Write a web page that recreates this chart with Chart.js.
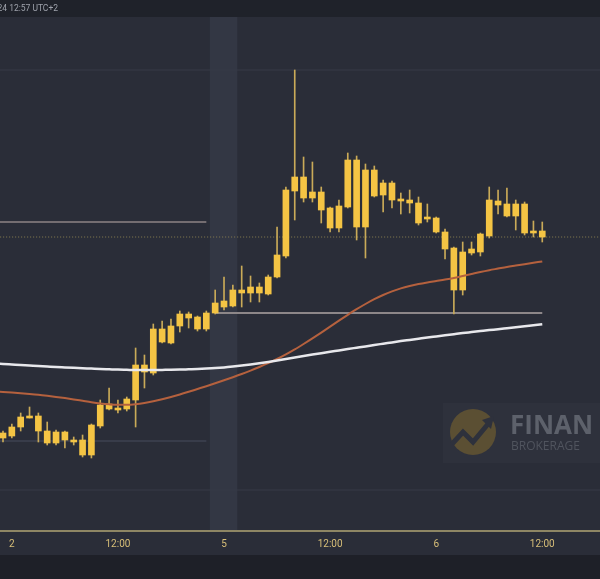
<!DOCTYPE html>
<html>
<head>
<meta charset="utf-8">
<script src="https://cdn.jsdelivr.net/npm/chart.js@4.4.1/dist/chart.umd.min.js"></script>
<style>
  html, body { margin: 0; padding: 0; background: #1e2028; }
  canvas { display: block; }
</style>
</head>
<body>
<canvas id="chart" width="600" height="579"></canvas>
<script>
// EUR/USD, 1-hour candles, 2 Aug 23:00 to 6 Aug 12:00 (UTC+2)
const openP = [
  1.07872, 1.07884, 1.07938, 1.07992, 1.08004, 1.07914, 1.07842, 1.07908, 1.07860, 1.07860,
  1.07770, 1.07944, 1.08076, 1.08040, 1.08046, 1.08100, 1.08310, 1.08262, 1.08526, 1.08442,
  1.08544, 1.08616, 1.08598, 1.08526, 1.08622, 1.08694, 1.08664, 1.08760, 1.08742, 1.08778,
  1.08736, 1.08838, 1.08964, 1.09354, 1.09438, 1.09312, 1.09348, 1.09252, 1.09132, 1.09258,
  1.09540, 1.09138, 1.09480, 1.09330, 1.09402, 1.09306, 1.09300, 1.09282, 1.09186, 1.09192,
  1.09108, 1.09012, 1.08760, 1.08982, 1.08988, 1.09084, 1.09294, 1.09276, 1.09204, 1.09276,
  1.09102, 1.09114
];
const highP = [
  1.07914, 1.07956, 1.08022, 1.08058, 1.08022, 1.07968, 1.07920, 1.07914, 1.07878, 1.07890,
  1.07956, 1.08100, 1.08172, 1.08100, 1.08118, 1.08412, 1.08370, 1.08556, 1.08574, 1.08586,
  1.08634, 1.08628, 1.08604, 1.08634, 1.08760, 1.08838, 1.08790, 1.08904, 1.08844, 1.08802,
  1.08850, 1.09138, 1.09378, 1.10080, 1.09558, 1.09528, 1.09378, 1.09258, 1.09300, 1.09582,
  1.09564, 1.09516, 1.09504, 1.09420, 1.09414, 1.09342, 1.09360, 1.09318, 1.09276, 1.09198,
  1.09126, 1.09018, 1.09048, 1.09048, 1.09102, 1.09378, 1.09360, 1.09372, 1.09300, 1.09288,
  1.09174, 1.09168
];
const lowP = [
  1.07848, 1.07872, 1.07914, 1.07992, 1.07848, 1.07830, 1.07830, 1.07812, 1.07830, 1.07758,
  1.07752, 1.07932, 1.08040, 1.08022, 1.08034, 1.07938, 1.08172, 1.08250, 1.08442, 1.08436,
  1.08508, 1.08532, 1.08514, 1.08514, 1.08616, 1.08640, 1.08658, 1.08658, 1.08688, 1.08688,
  1.08730, 1.08832, 1.08952, 1.09180, 1.09288, 1.09288, 1.09162, 1.09108, 1.09108, 1.09252,
  1.09060, 1.08952, 1.09318, 1.09228, 1.09252, 1.09216, 1.09222, 1.09150, 1.09168, 1.09102,
  1.08946, 1.08616, 1.08730, 1.08970, 1.08964, 1.09072, 1.09216, 1.09198, 1.09120, 1.09090,
  1.09078, 1.09048
];
const closeP = [
  1.07902, 1.07938, 1.07998, 1.08004, 1.07914, 1.07842, 1.07908, 1.07860, 1.07848, 1.07770,
  1.07950, 1.08070, 1.08046, 1.08052, 1.08106, 1.08310, 1.08268, 1.08526, 1.08448, 1.08544,
  1.08616, 1.08592, 1.08526, 1.08622, 1.08682, 1.08658, 1.08760, 1.08742, 1.08778, 1.08742,
  1.08838, 1.08970, 1.09360, 1.09438, 1.09312, 1.09348, 1.09240, 1.09132, 1.09264, 1.09540,
  1.09138, 1.09480, 1.09324, 1.09402, 1.09300, 1.09294, 1.09282, 1.09162, 1.09198, 1.09108,
  1.09006, 1.08760, 1.08988, 1.09006, 1.09096, 1.09300, 1.09270, 1.09204, 1.09276, 1.09102,
  1.09114, 1.09078
];

// Moving averages, starting one candle before the first visible one
const maStart = -1;
const maFast = [
  1.081510,
  1.081480, 1.081444, 1.081402, 1.081360, 1.081312, 1.081252, 1.081186, 1.081114, 1.081036, 1.080952,
  1.080868, 1.080796, 1.080742, 1.080712, 1.080712, 1.080748, 1.080820, 1.080922, 1.081042, 1.081180,
  1.081330, 1.081492, 1.081660, 1.081828, 1.082002, 1.082182, 1.082368, 1.082560, 1.082764, 1.082980,
  1.083208, 1.083460, 1.083736, 1.084036, 1.084360, 1.084696, 1.085044, 1.085404, 1.085764, 1.086112,
  1.086448, 1.086760, 1.087048, 1.087300, 1.087516, 1.087696, 1.087840, 1.087960, 1.088056, 1.088140,
  1.088224, 1.088320, 1.088440, 1.088560, 1.088680, 1.088788, 1.088884, 1.088980, 1.089064, 1.089148,
  1.089232, 1.089316
];
const maSlow = [
  1.083184,
  1.083160, 1.083130, 1.083100, 1.083070, 1.083040, 1.083010, 1.082980, 1.082956, 1.082932, 1.082908,
  1.082884, 1.082860, 1.082842, 1.082824, 1.082812, 1.082800, 1.082800, 1.082800, 1.082806, 1.082812,
  1.082824, 1.082842, 1.082860, 1.082884, 1.082914, 1.082956, 1.083010, 1.083070, 1.083136, 1.083208,
  1.083286, 1.083370, 1.083460, 1.083550, 1.083640, 1.083724, 1.083808, 1.083892, 1.083976, 1.084060,
  1.084138, 1.084216, 1.084300, 1.084378, 1.084456, 1.084534, 1.084606, 1.084678, 1.084750, 1.084816,
  1.084882, 1.084948, 1.085014, 1.085074, 1.085134, 1.085194, 1.085248, 1.085308, 1.085368, 1.085428,
  1.085488, 1.085548
];

// Time axis
const tickPos  = [1, 13, 25, 37, 49, 61];
const tickText = ['2', '12:00', '5', '12:00', '6', '12:00'];

// Horizontal levels
const resistanceLevel = 1.09168;
const supportLevel    = 1.08622;
const lowerLevel      = 1.07854;
const lastPrice       = 1.09078;
const gridLevels      = [1.10080, 1.07560];

// Weekend gap marker (candle index span)
const sessionGap = [23.4, 26.5];

const idx = openP.map((_, i) => i);

const COLORS = {
  page: '#1e2028',
  plot: '#2a2d38',
  topBar: '#1f222a',
  gap: '#333744',
  body: '#f4c444',
  wick: '#c9aa58',
  fast: '#b5613e',
  slow: '#e8e8ec',
  axis: '#8e8664',
  tick: '#d8bf78'
};

const background = {
  id: 'background',
  beforeDraw(chart) {
    const { ctx, chartArea, scales } = chart;
    ctx.save();
    ctx.fillStyle = COLORS.page;
    ctx.fillRect(0, 0, chart.width, chart.height);
    ctx.fillStyle = COLORS.plot;
    ctx.fillRect(0, 17, chart.width, 538);
    ctx.fillStyle = COLORS.topBar;
    ctx.fillRect(0, 0, chart.width, 17);
    // weekend gap column
    const x0 = scales.x.getPixelForValue(sessionGap[0]);
    const x1 = scales.x.getPixelForValue(sessionGap[1]);
    ctx.fillStyle = COLORS.gap;
    ctx.fillRect(x0, 17, x1 - x0, chartArea.bottom - 17);
    ctx.restore();
  },
  beforeDatasetsDraw(chart) {
    const { ctx } = chart;
    ctx.save();
    // broker watermark
    ctx.fillStyle = '#2e313c';
    ctx.fillRect(443, 403, 157, 60);
    ctx.fillStyle = '#5b4f33';
    ctx.beginPath();
    ctx.arc(473, 432, 23, 0, Math.PI * 2);
    ctx.fill();
    ctx.strokeStyle = '#2e313c';
    ctx.lineWidth = 5;
    ctx.lineJoin = 'miter';
    ctx.beginPath();
    ctx.moveTo(452, 444);
    ctx.lineTo(463, 432);
    ctx.lineTo(473, 442);
    ctx.lineTo(488, 424);
    ctx.stroke();
    ctx.fillStyle = '#2e313c';
    ctx.beginPath();
    ctx.moveTo(494, 416);
    ctx.lineTo(482, 420);
    ctx.lineTo(491, 429);
    ctx.closePath();
    ctx.fill();
    ctx.fillStyle = '#5d616b';
    ctx.font = 'bold 26px "Open Sans", sans-serif';
    ctx.textBaseline = 'alphabetic';
    ctx.textAlign = 'left';
    ctx.fillText('FINAN', 510, 434);
    ctx.fillStyle = '#50545e';
    ctx.font = '12px "Open Sans", sans-serif';
    ctx.fillText('BROKERAGE', 511, 450);
    ctx.restore();
  },
  afterDraw(chart) {
    const { ctx } = chart;
    ctx.save();
    ctx.fillStyle = '#9ea2ab';
    ctx.font = '8.5px Roboto, sans-serif';
    ctx.textAlign = 'right';
    ctx.textBaseline = 'middle';
    ctx.fillText('6 Aug 2024 12:57 UTC+2', 58, 9);
    ctx.restore();
  }
};

const seg = (a, b, y) => [{ x: a, y }, { x: b, y }];
const maPoints = (arr) => arr.map((v, k) => ({ x: maStart + k, y: v }));

new Chart(document.getElementById('chart'), {
  type: 'bar',
  data: {
    datasets: [
      {
        type: 'line', data: seg(-1, 68, gridLevels[0]),
        borderColor: '#373b47', borderWidth: 1, pointRadius: 0, order: 9
      },
      {
        type: 'line', data: seg(-1, 68, gridLevels[1]),
        borderColor: '#373b47', borderWidth: 1, pointRadius: 0, order: 9
      },
      {
        type: 'line', data: seg(-1, 23, lowerLevel),
        borderColor: '#3e4250', borderWidth: 1.5, pointRadius: 0, order: 8
      },
      {
        type: 'line', data: seg(-1, 23, resistanceLevel),
        borderColor: '#746d71', borderWidth: 2, pointRadius: 0, order: 8
      },
      {
        type: 'line', data: seg(24, 61, supportLevel),
        borderColor: '#8d8789', borderWidth: 2, pointRadius: 0, order: 8
      },
      {
        type: 'line', data: seg(-1, 68, lastPrice),
        borderColor: '#8a7f52', borderWidth: 1, borderDash: [1, 2], pointRadius: 0, order: 7
      },
      {
        label: 'wick',
        data: idx.map(i => ({ x: i, y: [lowP[i], highP[i]] })),
        backgroundColor: COLORS.wick, barThickness: 1, grouped: false, order: 5
      },
      {
        label: 'body',
        data: idx.map(i => ({ x: i, y: [openP[i], closeP[i]] })),
        backgroundColor: COLORS.body, barThickness: 6, grouped: false, order: 4
      },
      {
        type: 'line', label: 'MA fast',
        data: maPoints(maFast),
        borderColor: COLORS.fast, borderWidth: 2, pointRadius: 0,
        cubicInterpolationMode: 'monotone', order: 2
      },
      {
        type: 'line', label: 'MA slow',
        data: maPoints(maSlow),
        borderColor: COLORS.slow, borderWidth: 2.5, pointRadius: 0,
        cubicInterpolationMode: 'monotone', order: 1
      }
    ]
  },
  options: {
    responsive: false,
    animation: false,
    devicePixelRatio: 1,
    layout: { padding: 0 },
    plugins: { legend: { display: false }, tooltip: { enabled: false } },
    scales: {
      x: {
        type: 'linear',
        min: -0.34,
        max: 67.53,
        offset: false,
        grid: { display: false, drawTicks: false },
        border: { display: true, color: COLORS.axis, width: 2 },
        afterBuildTicks: (scale) => { scale.ticks = tickPos.map(v => ({ value: v })); },
        afterFit: (scale) => { scale.height = 48; },
        ticks: {
          autoSkip: false,
          maxRotation: 0,
          padding: 7,
          color: COLORS.tick,
          font: { family: 'Roboto, sans-serif', size: 10 },
          callback: (v) => { const k = tickPos.indexOf(v); return k >= 0 ? tickText[k] : ''; }
        }
      },
      y: {
        display: false,
        min: 1.07314,
        max: 1.10500
      }
    }
  },
  plugins: [background]
});
</script>
</body>
</html>
